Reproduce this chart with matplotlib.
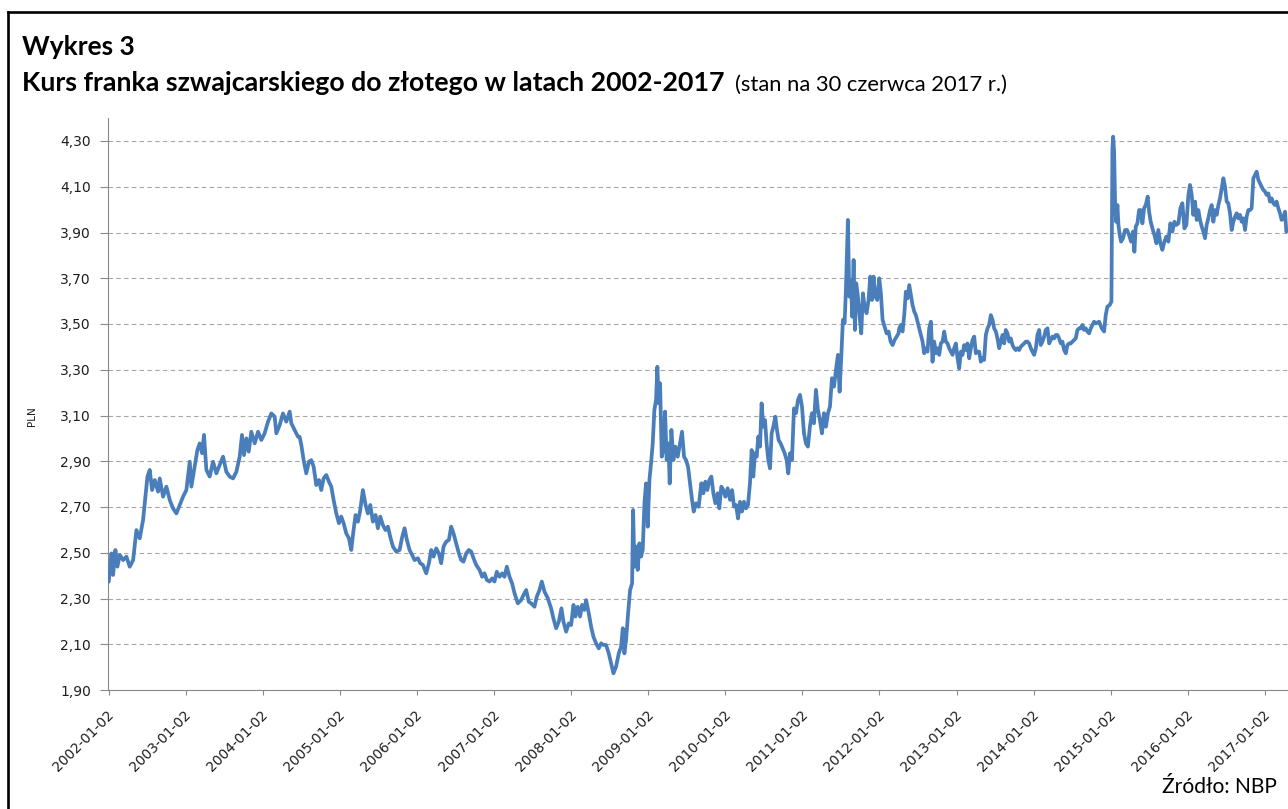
import matplotlib
matplotlib.use("Agg")
import matplotlib.pyplot as plt
from matplotlib.lines import Line2D
import matplotlib.transforms as mtransforms

# ---------------- data ----------------
# time in decimal years, value in PLN per 1 CHF
t_2002 = [2002.000, 2002.035, 2002.056, 2002.086, 2002.112, 2002.143, 2002.186, 2002.229, 2002.272, 2002.316,
          2002.359, 2002.402, 2002.445, 2002.467, 2002.502, 2002.532, 2002.562, 2002.597, 2002.640, 2002.661,
          2002.705, 2002.748, 2002.791, 2002.834, 2002.878, 2002.921, 2002.964, 2003.007, 2003.051, 2003.072,
          2003.107, 2003.150, 2003.180, 2003.211, 2003.236, 2003.267, 2003.310, 2003.353, 2003.396, 2003.440,
          2003.483, 2003.526, 2003.569, 2003.613, 2003.656, 2003.699, 2003.729, 2003.755, 2003.786, 2003.816,
          2003.850, 2003.894, 2003.937, 2003.980, 2004.023, 2004.067, 2004.110, 2004.153, 2004.175, 2004.218,
          2004.261, 2004.304, 2004.348, 2004.369, 2004.412, 2004.456]
v_2002 = [2.374, 2.497, 2.403, 2.512, 2.439, 2.490, 2.468, 2.483, 2.439, 2.468,
          2.599, 2.563, 2.643, 2.716, 2.833, 2.862, 2.774, 2.818, 2.767, 2.825,
          2.745, 2.789, 2.731, 2.694, 2.672, 2.709, 2.745, 2.774, 2.898, 2.789,
          2.862, 2.949, 2.978, 2.935, 3.015, 2.862, 2.833, 2.898, 2.847, 2.884,
          2.920, 2.854, 2.833, 2.825, 2.854, 2.920, 3.015, 2.927, 3.000, 2.942,
          3.029, 2.978, 3.029, 2.993, 3.022, 3.073, 3.109, 3.095, 3.022, 3.058,
          3.109, 3.073, 3.117, 3.066, 3.037, 3.007]

t_2004 = [2004.477, 2004.499, 2004.529, 2004.563, 2004.598, 2004.628, 2004.659, 2004.693, 2004.728, 2004.758,
          2004.788, 2004.823, 2004.857, 2004.888, 2004.918, 2004.953, 2004.987, 2005.017, 2005.048, 2005.082,
          2005.117, 2005.147, 2005.177, 2005.203, 2005.234, 2005.264, 2005.298, 2005.333, 2005.363, 2005.394,
          2005.428, 2005.463, 2005.493, 2005.523, 2005.558, 2005.592, 2005.623, 2005.653, 2005.688, 2005.731,
          2005.774, 2005.809, 2005.839, 2005.869, 2005.904, 2005.938, 2005.969, 2006.012, 2006.042, 2006.077,
          2006.120, 2006.155, 2006.185, 2006.215, 2006.250, 2006.284, 2006.314, 2006.345, 2006.379, 2006.414,
          2006.444, 2006.474, 2006.509, 2006.544, 2006.574, 2006.604, 2006.639, 2006.673, 2006.704, 2006.734,
          2006.768, 2006.812, 2006.846, 2006.876, 2006.907, 2006.941, 2006.976, 2007.006, 2007.036]
v_2004 = [3.007, 2.971, 2.905, 2.847, 2.898, 2.905, 2.876, 2.796, 2.818, 2.774,
          2.825, 2.840, 2.811, 2.789, 2.731, 2.672, 2.629, 2.658, 2.629, 2.585,
          2.563, 2.512, 2.599, 2.665, 2.636, 2.687, 2.774, 2.709, 2.672, 2.709,
          2.636, 2.665, 2.607, 2.658, 2.621, 2.599, 2.614, 2.570, 2.527, 2.505,
          2.512, 2.570, 2.607, 2.556, 2.512, 2.490, 2.468, 2.476, 2.454, 2.447,
          2.410, 2.454, 2.512, 2.483, 2.519, 2.497, 2.454, 2.527, 2.548, 2.556,
          2.614, 2.585, 2.541, 2.497, 2.468, 2.461, 2.497, 2.512, 2.505, 2.476,
          2.447, 2.425, 2.395, 2.410, 2.381, 2.374, 2.388, 2.374, 2.417]

t_2007 = [2007.071, 2007.106, 2007.136, 2007.166, 2007.201, 2007.235, 2007.266, 2007.309, 2007.352, 2007.382,
          2007.417, 2007.451, 2007.482, 2007.525, 2007.555, 2007.590, 2007.620, 2007.655, 2007.698, 2007.741,
          2007.771, 2007.806, 2007.841, 2007.875, 2007.901, 2007.936, 2007.970, 2008.001, 2008.031, 2008.057,
          2008.087, 2008.117, 2008.143, 2008.173, 2008.195, 2008.230, 2008.260, 2008.290, 2008.325, 2008.359,
          2008.390, 2008.420, 2008.454, 2008.489, 2008.519, 2008.550, 2008.584, 2008.619, 2008.649, 2008.671,
          2008.692, 2008.714, 2008.740, 2008.766, 2008.792, 2008.805, 2008.822, 2008.844, 2008.865, 2008.887,
          2008.908, 2008.930, 2008.952, 2008.973, 2008.995, 2009.017, 2009.038, 2009.060, 2009.081, 2009.103,
          2009.120, 2009.138, 2009.155, 2009.177, 2009.198, 2009.220, 2009.241, 2009.263, 2009.280, 2009.302,
          2009.328, 2009.354, 2009.384, 2009.414, 2009.440, 2009.466, 2009.492, 2009.518, 2009.544, 2009.570,
          2009.592, 2009.622, 2009.656]
v_2007 = [2.395, 2.410, 2.395, 2.439, 2.395, 2.366, 2.323, 2.279, 2.293, 2.315,
          2.337, 2.286, 2.279, 2.264, 2.308, 2.337, 2.374, 2.330, 2.301, 2.257,
          2.213, 2.170, 2.199, 2.257, 2.199, 2.155, 2.191, 2.184, 2.272, 2.221,
          2.264, 2.221, 2.272, 2.250, 2.293, 2.235, 2.177, 2.133, 2.104, 2.082,
          2.104, 2.097, 2.097, 2.060, 2.017, 1.973, 2.002, 2.060, 2.089, 2.170,
          2.060, 2.119, 2.235, 2.337, 2.366, 2.687, 2.439, 2.527, 2.425, 2.541,
          2.483, 2.512, 2.716, 2.803, 2.614, 2.818, 2.891, 2.978, 3.124, 3.168,
          3.313, 3.153, 3.241, 2.920, 2.949, 3.117, 2.905, 2.978, 2.803, 3.037,
          2.905, 2.964, 2.920, 2.978, 3.029, 2.920, 2.905, 2.876, 2.803, 2.731,
          2.680, 2.716, 2.701]

t_2009 = [2009.691, 2009.717, 2009.743, 2009.769, 2009.795, 2009.821, 2009.847, 2009.873, 2009.903, 2009.924,
          2009.950, 2009.976, 2010.002, 2010.032, 2010.063, 2010.089, 2010.115, 2010.141, 2010.167, 2010.192,
          2010.218, 2010.244, 2010.270, 2010.296, 2010.322, 2010.344, 2010.365, 2010.387, 2010.409, 2010.430,
          2010.452, 2010.473, 2010.495, 2010.517, 2010.538, 2010.560, 2010.582, 2010.603, 2010.625, 2010.651,
          2010.672, 2010.694, 2010.720, 2010.746, 2010.772, 2010.798, 2010.819, 2010.841, 2010.867, 2010.893,
          2010.919, 2010.945, 2010.971, 2010.997, 2011.023, 2011.048, 2011.074, 2011.100, 2011.126, 2011.152,
          2011.178, 2011.204, 2011.230, 2011.256, 2011.282, 2011.308, 2011.334, 2011.360, 2011.386, 2011.412,
          2011.438, 2011.464, 2011.485, 2011.507, 2011.528, 2011.550, 2011.567, 2011.593, 2011.611, 2011.632,
          2011.649, 2011.667, 2011.684, 2011.701, 2011.723, 2011.745, 2011.766, 2011.788, 2011.809, 2011.835,
          2011.861, 2011.883, 2011.905, 2011.926, 2011.948, 2011.974, 2012.000, 2012.021, 2012.043, 2012.069,
          2012.095, 2012.121, 2012.147, 2012.173, 2012.199, 2012.225, 2012.250]
v_2009 = [2.804, 2.760, 2.811, 2.774, 2.818, 2.833, 2.760, 2.716, 2.760, 2.694,
          2.789, 2.774, 2.745, 2.782, 2.731, 2.774, 2.702, 2.709, 2.650, 2.723,
          2.680, 2.723, 2.694, 2.709, 2.804, 2.949, 2.833, 2.935, 2.920, 3.008,
          2.964, 3.153, 3.051, 3.080, 2.978, 2.905, 2.869, 3.022, 3.051, 3.095,
          3.037, 2.993, 2.978, 2.957, 2.935, 2.905, 2.847, 2.935, 2.905, 3.131,
          3.110, 3.168, 3.190, 3.139, 3.022, 2.978, 2.964, 3.051, 3.110, 3.066,
          3.212, 3.124, 3.080, 3.022, 3.110, 3.051, 3.110, 3.139, 3.263, 3.226,
          3.299, 3.365, 3.204, 3.357, 3.518, 3.503, 3.649, 3.955, 3.620, 3.692,
          3.532, 3.780, 3.474, 3.678, 3.620, 3.532, 3.459, 3.634, 3.576, 3.547,
          3.605, 3.707, 3.605, 3.707, 3.620, 3.605, 3.700, 3.634, 3.518, 3.488,
          3.459, 3.467, 3.423, 3.408, 3.430, 3.445, 3.459]

t_2012 = [2012.259, 2012.281, 2012.302, 2012.324, 2012.345, 2012.367, 2012.389, 2012.410, 2012.432, 2012.454,
          2012.475, 2012.497, 2012.518, 2012.540, 2012.562, 2012.583, 2012.605, 2012.626, 2012.648, 2012.670,
          2012.691, 2012.713, 2012.735, 2012.756, 2012.778, 2012.799, 2012.821, 2012.843, 2012.864, 2012.886,
          2012.907, 2012.929, 2012.951, 2012.972, 2012.994, 2013.016, 2013.037, 2013.059, 2013.080, 2013.102,
          2013.124, 2013.145, 2013.167, 2013.189, 2013.210, 2013.232, 2013.253, 2013.275, 2013.297, 2013.318,
          2013.340, 2013.361, 2013.383, 2013.405, 2013.426, 2013.448, 2013.470, 2013.491, 2013.513, 2013.534,
          2013.556, 2013.578, 2013.599, 2013.621, 2013.642, 2013.664, 2013.686, 2013.707, 2013.729, 2013.751,
          2013.772, 2013.794, 2013.815, 2013.837, 2013.859, 2013.880, 2013.902, 2013.923, 2013.945, 2013.967,
          2013.988, 2014.010, 2014.032, 2014.053, 2014.075, 2014.096, 2014.118, 2014.140, 2014.161, 2014.183,
          2014.205, 2014.226, 2014.248, 2014.269, 2014.291, 2014.313, 2014.334, 2014.356, 2014.377, 2014.399,
          2014.421, 2014.442, 2014.464, 2014.486, 2014.507, 2014.529, 2014.550, 2014.572, 2014.594, 2014.615,
          2014.637, 2014.658, 2014.680, 2014.702, 2014.723, 2014.745, 2014.767, 2014.788, 2014.810]
v_2012 = [3.481, 3.496, 3.467, 3.539, 3.641, 3.612, 3.670, 3.627, 3.583, 3.554,
          3.539, 3.510, 3.481, 3.452, 3.423, 3.372, 3.394, 3.379, 3.481, 3.510,
          3.335, 3.423, 3.372, 3.394, 3.365, 3.415, 3.423, 3.467, 3.423, 3.415,
          3.394, 3.379, 3.365, 3.394, 3.415, 3.350, 3.306, 3.379, 3.365, 3.408,
          3.386, 3.415, 3.350, 3.394, 3.430, 3.445, 3.372, 3.379, 3.379, 3.335,
          3.350, 3.343, 3.452, 3.481, 3.496, 3.539, 3.518, 3.481, 3.467, 3.437,
          3.394, 3.423, 3.452, 3.415, 3.474, 3.459, 3.423, 3.437, 3.408, 3.394,
          3.386, 3.394, 3.386, 3.401, 3.408, 3.415, 3.423, 3.423, 3.415, 3.394,
          3.379, 3.365, 3.394, 3.452, 3.474, 3.408, 3.423, 3.445, 3.474, 3.481,
          3.415, 3.430, 3.445, 3.437, 3.452, 3.452, 3.437, 3.415, 3.423, 3.386,
          3.372, 3.408, 3.415, 3.415, 3.423, 3.430, 3.437, 3.474, 3.481, 3.481,
          3.496, 3.474, 3.481, 3.467, 3.459, 3.481, 3.496, 3.510, 3.503]

t_2014 = [2014.853, 2014.888, 2014.918, 2014.939, 2014.961, 2014.991, 2015.013, 2015.026, 2015.035, 2015.048,
          2015.061, 2015.074, 2015.091, 2015.104, 2015.121, 2015.138, 2015.164, 2015.190, 2015.216, 2015.242,
          2015.268, 2015.294, 2015.311, 2015.329, 2015.350, 2015.372, 2015.393, 2015.415, 2015.437, 2015.458,
          2015.484, 2015.502, 2015.523, 2015.545, 2015.571, 2015.597, 2015.622, 2015.648, 2015.674, 2015.700,
          2015.726, 2015.752, 2015.778, 2015.804, 2015.830, 2015.856, 2015.882, 2015.908, 2015.934, 2015.960,
          2015.986, 2016.012, 2016.033, 2016.055, 2016.076, 2016.098, 2016.120, 2016.141, 2016.163, 2016.185,
          2016.206, 2016.228, 2016.249, 2016.271, 2016.293, 2016.314, 2016.336, 2016.357, 2016.379, 2016.401,
          2016.422, 2016.444, 2016.466, 2016.487, 2016.509, 2016.530, 2016.552, 2016.574, 2016.595, 2016.617,
          2016.639, 2016.660, 2016.682, 2016.703, 2016.725, 2016.747, 2016.768, 2016.790, 2016.812, 2016.833,
          2016.855, 2016.876, 2016.898, 2016.920, 2016.941, 2016.963, 2016.985, 2017.006, 2017.028, 2017.049,
          2017.071, 2017.093, 2017.114, 2017.136, 2017.157, 2017.179, 2017.201, 2017.222, 2017.244, 2017.266,
          2017.283]
v_2014 = [3.510, 3.481, 3.467, 3.539, 3.576, 3.583, 3.598, 4.268, 4.319, 4.253,
          4.020, 3.947, 4.020, 3.933, 3.889, 3.860, 3.875, 3.911, 3.911, 3.889,
          3.860, 3.904, 3.816, 3.926, 3.940, 3.998, 3.998, 3.940, 4.006, 4.020,
          4.057, 3.991, 3.947, 3.918, 3.889, 3.853, 3.911, 3.853, 3.824, 3.860,
          3.882, 3.860, 3.940, 3.904, 3.947, 3.933, 3.940, 4.006, 4.028, 3.918,
          3.933, 4.064, 4.108, 4.064, 3.977, 4.035, 3.955, 3.998, 3.955, 3.926,
          3.904, 3.875, 3.933, 3.962, 3.998, 4.020, 3.947, 3.998, 3.977, 4.020,
          4.049, 4.093, 4.137, 4.100, 4.035, 4.028, 3.984, 3.911, 3.947, 3.969,
          3.984, 3.962, 3.977, 3.947, 3.962, 3.911, 3.969, 3.998, 3.998, 4.006,
          4.137, 4.151, 4.166, 4.130, 4.115, 4.100, 4.086, 4.079, 4.064, 4.071,
          4.035, 4.049, 4.028, 4.020, 4.035, 4.006, 3.984, 3.955, 3.962, 3.991,
          3.904]

y_ticks = [1.90, 2.10, 2.30, 2.50, 2.70, 2.90, 3.10, 3.30, 3.50, 3.70, 3.90, 4.10, 4.30]
y_tick_labels = ["1,90", "2,10", "2,30", "2,50", "2,70", "2,90", "3,10", "3,30", "3,50", "3,70", "3,90", "4,10", "4,30"]
x_tick_labels = ["2002-01-02", "2003-01-02", "2004-01-02", "2005-01-02", "2006-01-02", "2007-01-02",
                 "2008-01-02", "2009-01-02", "2010-01-02", "2011-01-02", "2012-01-02", "2013-01-02",
                 "2014-01-02", "2015-01-02", "2016-01-02", "2017-01-02"]

title_1 = "Wykres 3"
title_2 = "Kurs franka szwajcarskiego do złotego w latach 2002-2017"
title_3 = "(stan na 30 czerwca 2017 r.)"
y_label = "PLN"
source = "Źródło: NBP"

t_all = t_2002 + t_2004 + t_2007 + t_2009 + t_2012 + t_2014
v_all = v_2002 + v_2004 + v_2007 + v_2009 + v_2012 + v_2014

# ---------------- figure ----------------
W, H = 1288, 809
fig = plt.figure(figsize=(W / 100, H / 100), dpi=100)
fig.patch.set_facecolor("white")

px_per_year = 77.05
x0, x1 = 2001.99, 2017.5
ax = fig.add_axes([108 / W, 119 / H, (x1 - x0) * px_per_year / W, 2.5 * 228.75 / H])
ax.set_xlim(x0, x1)
ax.set_ylim(1.90, 4.40)

ax.plot(t_all, v_all, color="#4a7ebb", lw=2.7, solid_joinstyle="round", solid_capstyle="round", zorder=3)

ax.set_yticks(y_ticks)
ax.set_yticklabels(y_tick_labels)
x_pos = [int(s[:4]) + 1 / 365.25 for s in x_tick_labels]
ax.set_xticks(x_pos)
ax.set_xticklabels(x_tick_labels)

ax.set_axisbelow(True)
ax.yaxis.grid(True, color="#a6a6a6", lw=0.8, ls=(0, (4, 3)))
ax.xaxis.grid(False)
for s in ("top", "right"):
    ax.spines[s].set_visible(False)
for s in ("left", "bottom"):
    ax.spines[s].set_color("#8a8a8a")
    ax.spines[s].set_linewidth(0.8)

ax.tick_params(axis="y", direction="out", length=5.8, width=0.8, color="#8a8a8a",
               pad=6.5, labelsize=10, labelcolor="#1e1e1e")
ax.tick_params(axis="x", direction="out", length=3.6, width=0.8, color="#8a8a8a",
               pad=12.5, labelsize=10, labelcolor="#1e1e1e")
for lab in ax.get_yticklabels() + ax.get_xticklabels():
    lab.set_family("DejaVu Sans")
offset = mtransforms.ScaledTranslation(3 / 100, 0, fig.dpi_scale_trans)
for lab in ax.get_xticklabels():
    lab.set_rotation(45)
    lab.set_ha("right")
    lab.set_va("center")
    lab.set_rotation_mode("anchor")
    lab.set_transform(lab.get_transform() + offset)

# outer frame (left and top edges visible in the reference)
fig.add_artist(Line2D([8 / W, 8 / W], [0, 1 - 12 / H], transform=fig.transFigure,
                      color="black", lw=1.9, solid_capstyle="projecting"))
fig.add_artist(Line2D([8 / W, 1], [1 - 12 / H, 1 - 12 / H], transform=fig.transFigure,
                      color="black", lw=1.9, solid_capstyle="projecting"))

renderer = fig.canvas.get_renderer()


def fit_text(x_px, y_px, s, width_px, ha="left", **kw):
    txt = fig.text(x_px / W, 1 - y_px / H, s, fontsize=20, ha=ha, va="baseline", **kw)
    bb = txt.get_window_extent(renderer)
    txt.set_fontsize(20 * width_px / bb.width)
    return txt


title_font = ["Lato", "DejaVu Sans"]
fit_text(22, 55, title_1, 113, family=title_font, fontweight="bold", color="black")
fit_text(22, 91, title_2, 705, family=title_font, fontweight="bold", color="black")
fit_text(735, 91, title_3, 273, family=title_font, color="black")
fit_text(1162, 793, source, 115, family=title_font, color="black")

fig.text(32 / W, 1 - 416 / H, y_label, rotation=90, ha="center", va="center",
         fontsize=7.5, family="DejaVu Sans", color="#1e1e1e")

fig.savefig("out.png", dpi=100)
